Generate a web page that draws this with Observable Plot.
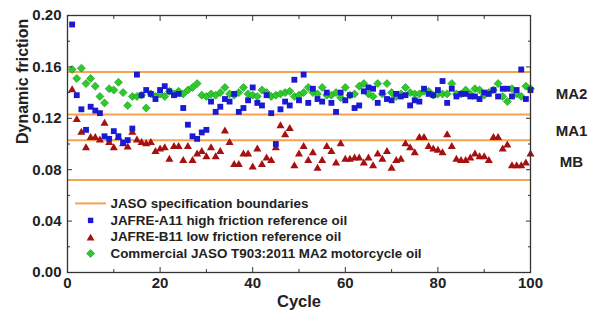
<!DOCTYPE html>
<html><head><meta charset="utf-8">
<script src="https://cdn.jsdelivr.net/npm/d3@7"></script>
<script src="https://cdn.jsdelivr.net/npm/@observablehq/plot@0.6"></script>
<style>
body{margin:0;background:#fff;}
#wrap{position:relative;width:600px;height:321px;font-family:"Liberation Sans",Arial,sans-serif;}
#legend{position:absolute;left:74px;top:195px;font-weight:bold;font-size:13.4px;color:#222;}
.row{display:flex;align-items:center;height:16.8px;white-space:nowrap;}
.row svg{display:block;flex:none;}
</style></head><body><div id="wrap"></div>
<script>
// ---- data ----
const cycles = d3.range(1, 101);
const highFriction = [ // JAFRE-A11
0.193,0.138,0.127,0.111,0.129,0.126,0.124,0.106,0.104,0.110,
0.106,0.101,0.103,0.112,0.154,0.138,0.142,0.139,0.135,0.142,
0.145,0.141,0.138,0.139,0.128,0.115,0.106,0.104,0.109,0.111,
0.133,0.125,0.129,0.135,0.133,0.139,0.125,0.128,0.134,0.144,
0.132,0.130,0.138,0.124,0.100,0.127,0.133,0.130,0.150,0.134,
0.154,0.132,0.143,0.135,0.133,0.140,0.132,0.125,0.140,0.134,
0.138,0.128,0.130,0.141,0.144,0.143,0.132,0.140,0.135,0.134,
0.139,0.137,0.138,0.130,0.134,0.133,0.143,0.139,0.138,0.142,
0.149,0.132,0.143,0.137,0.139,0.139,0.137,0.137,0.135,0.140,
0.139,0.142,0.137,0.143,0.143,0.137,0.142,0.158,0.135,0.142];
const lowFriction = [ // JAFRE-B11
0.142,0.119,0.109,0.097,0.105,0.105,0.103,0.116,0.101,0.097,
0.105,0.100,0.0975,0.109,0.103,0.101,0.100,0.101,0.094,0.096,
0.097,0.088,0.098,0.098,0.087,0.098,0.087,0.092,0.094,0.090,
0.097,0.090,0.094,0.110,0.101,0.084,0.084,0.092,0.092,0.082,
0.096,0.084,0.089,0.087,0.097,0.114,0.107,0.112,0.083,0.092,
0.098,0.087,0.093,0.081,0.087,0.098,0.094,0.085,0.100,0.088,
0.088,0.089,0.089,0.085,0.089,0.083,0.092,0.088,0.094,0.081,
0.087,0.088,0.100,0.097,0.093,0.105,0.105,0.098,0.096,0.095,
0.093,0.107,0.098,0.088,0.087,0.087,0.089,0.092,0.090,0.090,
0.087,0.105,0.105,0.096,0.099,0.083,0.083,0.083,0.085,0.092];
const commercial = [ // JASO T903:2011 MA2 motorcycle oil
0.158,0.151,0.159,0.147,0.151,0.145,0.137,0.132,0.143,0.142,
0.148,0.140,0.130,0.137,0.137,0.138,0.128,0.139,0.137,0.139,
0.137,0.141,0.139,0.141,0.139,0.142,0.144,0.147,0.138,0.137,
0.139,0.138,0.140,0.144,0.139,0.138,0.140,0.144,0.139,0.138,
0.137,0.142,0.140,0.137,0.138,0.139,0.140,0.141,0.137,0.138,
0.140,0.144,0.140,0.139,0.144,0.138,0.138,0.140,0.136,0.144,
0.138,0.139,0.145,0.147,0.139,0.137,0.147,0.139,0.147,0.140,
0.137,0.139,0.144,0.140,0.139,0.139,0.141,0.141,0.138,0.139,
0.139,0.139,0.147,0.139,0.139,0.142,0.139,0.143,0.142,0.138,
0.140,0.142,0.147,0.137,0.133,0.143,0.139,0.137,0.145,0.143];
const boundaries = [0.156, 0.123, 0.103, 0.072];
const classLabels = ["MA2", "MA1", "MB"];
const classLabelY = [0.139, 0.110, 0.086];
const xMajor = [0, 20, 40, 60, 80, 100];
const xMinor = [10, 30, 50, 70, 90];
const yMajor = [0, 0.04, 0.08, 0.12, 0.16, 0.20];
const yMinor = [0.02, 0.06, 0.10, 0.14, 0.18];
const legendLabels = ["JASO specification boundaries", "JAFRE-A11 high friction reference oil",
  "JAFRE-B11 low friction reference oil", "Commercial JASO T903:2011 MA2 motorcycle oil"];

// ---- styles ----
const ORANGE = "#f7a24e", BLUE = "#1a1ad2", RED = "#a51010", GREEN = "#2ccb2c", GREEN_S = "#159015", INK = "#222";

const toRows = vals => cycles.map((c, i) => ({cycle: c, value: vals[i]}));
const labelRows = classLabels.map((t, i) => ({t, y: classLabelY[i]}));
const fmt = d3.format(".2f");
const noText = () => "";

const chart = Plot.plot({
  width: 600, height: 321,
  marginLeft: 67, marginRight: 70, marginTop: 15, marginBottom: 49,
  x: {domain: [0, 100], label: null},
  y: {domain: [0, 0.2], label: null},
  style: "font-family:'Liberation Sans',Arial,sans-serif;font-size:15px;font-weight:bold;color:#222;background:transparent;overflow:visible;",
  marks: [
    Plot.ruleY(boundaries, {stroke: ORANGE, strokeWidth: 2}),
    Plot.dot(toRows(lowFriction), {x: "cycle", y: "value", symbol: "triangle", r: 3.0, fill: RED, stroke: "none"}),
    Plot.dot(toRows(commercial), {x: "cycle", y: "value", symbol: "diamond2", r: 3.6, fill: GREEN, stroke: GREEN_S, strokeWidth: 0.6}),
    Plot.dot(toRows(highFriction), {x: "cycle", y: "value", symbol: "square", r: 3.3, fill: BLUE, stroke: "none"}),
    Plot.frame({stroke: "#333", strokeWidth: 1.3}),
    // tick labels
    Plot.axisX(xMajor, {anchor: "bottom", tickSize: 0, tickPadding: 5, tickFormat: d => d, label: null}),
    Plot.axisY(yMajor, {anchor: "left", tickSize: 0, tickPadding: 6, tickFormat: fmt, label: null}),
    // inward tick marks on all sides
    Plot.axisX(xMajor, {anchor: "bottom", tickSize: -5, tickFormat: noText, label: null, stroke: "#333"}),
    Plot.axisX(xMinor, {anchor: "bottom", tickSize: -3, tickFormat: noText, label: null, stroke: "#333"}),
    Plot.axisX(xMajor, {anchor: "top", tickSize: -5, tickFormat: noText, label: null, stroke: "#333"}),
    Plot.axisX(xMinor, {anchor: "top", tickSize: -3, tickFormat: noText, label: null, stroke: "#333"}),
    Plot.axisY(yMajor, {anchor: "left", tickSize: -5, tickFormat: noText, label: null, stroke: "#333"}),
    Plot.axisY(yMinor, {anchor: "left", tickSize: -3, tickFormat: noText, label: null, stroke: "#333"}),
    Plot.axisY(yMajor, {anchor: "right", tickSize: -5, tickFormat: noText, label: null, stroke: "#333"}),
    Plot.axisY(yMinor, {anchor: "right", tickSize: -3, tickFormat: noText, label: null, stroke: "#333"}),
    // class labels on the right
    Plot.text(labelRows, {y: "y", text: "t", frameAnchor: "right", dx: 41, textAnchor: "middle", fontSize: 15, fontWeight: "bold", fill: INK}),
    // axis titles
    Plot.text(["Dynamic friction"], {text: d => d, frameAnchor: "left", rotate: -90, dx: -45, fontSize: 16, fontWeight: "bold", fill: INK}),
    Plot.text(["Cycle"], {text: d => d, frameAnchor: "bottom", dy: 34, fontSize: 16.5, fontWeight: "bold", fill: INK})
  ]
});

const wrap = document.getElementById("wrap");
wrap.appendChild(chart);

// legend inside the plot area
const legend = document.createElement("div");
legend.id = "legend";
const syms = [
  `<svg width="36.5" height="16.8"><line x1="1" x2="32" y1="8.4" y2="8.4" stroke="${ORANGE}" stroke-width="2"/></svg>`,
  `<svg width="36.5" height="16.8"><rect x="13.9" y="5.7" width="5.4" height="5.4" fill="${BLUE}"/></svg>`,
  `<svg width="36.5" height="16.8"><path d="M16.6,4.8 L20.5,11.4 L12.7,11.4 Z" fill="${RED}"/></svg>`,
  `<svg width="36.5" height="16.8"><path d="M16.6,4.4 L20.6,8.4 L16.6,12.4 L12.6,8.4 Z" fill="${GREEN}" stroke="${GREEN_S}" stroke-width="0.6"/></svg>`
];
legend.innerHTML = legendLabels.map((t, i) => `<div class="row">${syms[i]}<span>${t}</span></div>`).join("");
wrap.appendChild(legend);
</script></body></html>
